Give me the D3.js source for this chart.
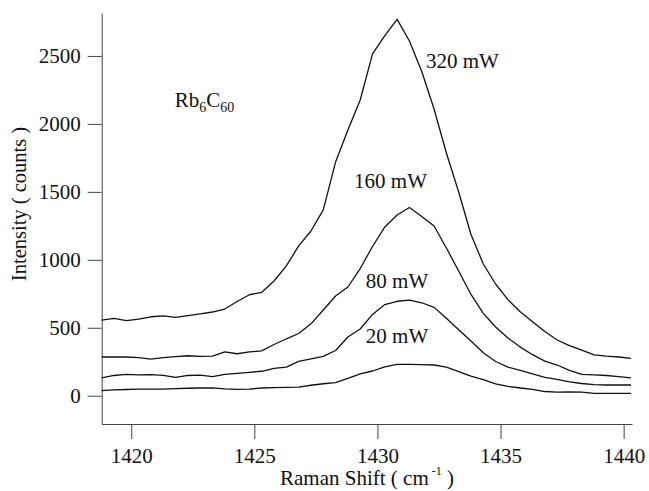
<!DOCTYPE html>
<html>
<head>
<meta charset="utf-8">
<script src="https://cdn.jsdelivr.net/npm/d3@7"></script>
<style>
  body { margin: 0; background: #fff; }
  .axis path, .axis line { stroke: #444; stroke-width: 1; }
  .curve { fill: none; stroke: #111; stroke-width: 1.3; stroke-linejoin: round; }
</style>
</head>
<body>
<script>
// Raman shift grid (cm-1), shared by all four spectra
const shift = d3.range(44).map(i => 1418.8 + 0.5 * i)

// intensities (counts), one array per laser power
const p320 = [557, 569, 552, 563, 581, 588, 576, 589, 603, 616, 638, 693, 743, 761, 844, 955,
  1102, 1212, 1367, 1720, 1955, 2176, 2515, 2649, 2769, 2610, 2386, 2110, 1786, 1499, 1186, 969,
  822, 707, 618, 545, 472, 410, 369, 336, 300, 291, 285, 275]
const p160 = [285, 285, 285, 281, 270, 280, 288, 294, 290, 292, 322, 309, 322, 330, 377, 419,
  458, 529, 631, 734, 800, 936, 1098, 1242, 1330, 1385, 1319, 1249, 1087, 918, 745, 606,
  506, 425, 358, 302, 255, 226, 187, 157, 154, 149, 140, 132]
const p80 = [132, 149, 157, 154, 155, 150, 135, 149, 152, 141, 157, 165, 172, 180, 202, 211,
  253, 271, 290, 333, 432, 491, 598, 671, 695, 704, 684, 650, 570, 485, 403, 316,
  252, 211, 186, 160, 135, 120, 102, 90, 81, 79, 79, 79]
const p20 = [38, 43, 46, 49, 48, 49, 53, 55, 57, 58, 51, 47, 49, 57, 60, 62,
  63, 77, 88, 97, 128, 160, 182, 213, 230, 230, 229, 226, 211, 178, 145, 118,
  88, 69, 57, 46, 31, 26, 29, 27, 18, 18, 18, 18]

const series = [p320, p160, p80, p20]

// curve labels: [text, shift, counts]
const labels = [
  ['320 mW', 1431.97, 2409],
  ['160 mW', 1429.05, 1526],
  ['80 mW', 1429.53, 790],
  ['20 mW', 1429.53, 386]
]

const xTicks = [1420, 1425, 1430, 1435, 1440]
const yTicks = [0, 500, 1000, 1500, 2000, 2500]

const fullWidth = 649
const fullHeight = 491
const serif = '"Liberation Serif"'

const svg = d3.select('body')
  .append('svg')
  .attr('width', fullWidth)
  .attr('height', fullHeight)

const x = d3.scaleLinear()
  .domain([1418.8, 1440.34])
  .range([101.7, 632])

const y = d3.scaleLinear()
  .domain([-208, 2816])
  .range([424, 13])

const xAxis = svg.append('g')
  .attr('class', 'axis')
  .attr('transform', `translate(0,${y.range()[0]})`)
  .call(d3.axisBottom(x).tickValues(xTicks).tickSize(15).tickSizeOuter(0).tickPadding(9).tickFormat(d3.format('d')))

const yAxis = svg.append('g')
  .attr('class', 'axis')
  .attr('transform', `translate(${x.range()[0]},0)`)
  .call(d3.axisLeft(y).tickValues(yTicks).tickSize(14).tickSizeOuter(0).tickPadding(7).tickFormat(d3.format('d')))

svg.selectAll('.axis text')
  .style('font-family', serif)
  .style('font-size', '21px')
  .style('fill', '#111')

const line = d3.line()
  .x((d, i) => x(shift[i]))
  .y(d => y(d))

svg.selectAll('.curve')
  .data(series)
  .enter().append('path')
  .attr('class', 'curve')
  .attr('d', line)

function addText(cls) {
  return svg.append('text')
    .attr('class', cls)
    .style('font-family', serif)
    .style('font-size', '21px')
    .style('fill', '#111')
}

labels.forEach(d => {
  addText('lbl')
    .attr('x', x(d[1]))
    .attr('y', y(d[2]))
    .text(d[0])
})

// compound name with subscripts
const rb = addText('lbl')
  .attr('x', x(1421.77))
  .attr('y', y(2127))
rb.append('tspan').text('Rb')
rb.append('tspan').style('font-size', '14px').attr('dy', 5).text('6')
rb.append('tspan').attr('dy', -5).text('C')
rb.append('tspan').style('font-size', '14px').attr('dy', 5).text('60')

// axis titles
const xt = addText('title')
  .attr('text-anchor', 'middle')
  .attr('x', 367)
  .attr('y', 485)
xt.append('tspan').text('Raman Shift ( cm')
xt.append('tspan').style('font-size', '12px').attr('dy', -10).text(' -1')
xt.append('tspan').attr('dy', 10).text('  )')

addText('title')
  .attr('text-anchor', 'middle')
  .attr('transform', 'translate(26,204) rotate(-90)')
  .style('font-size', '20.5px')
  .text('Intensity ( counts )')
</script>
</body>
</html>
